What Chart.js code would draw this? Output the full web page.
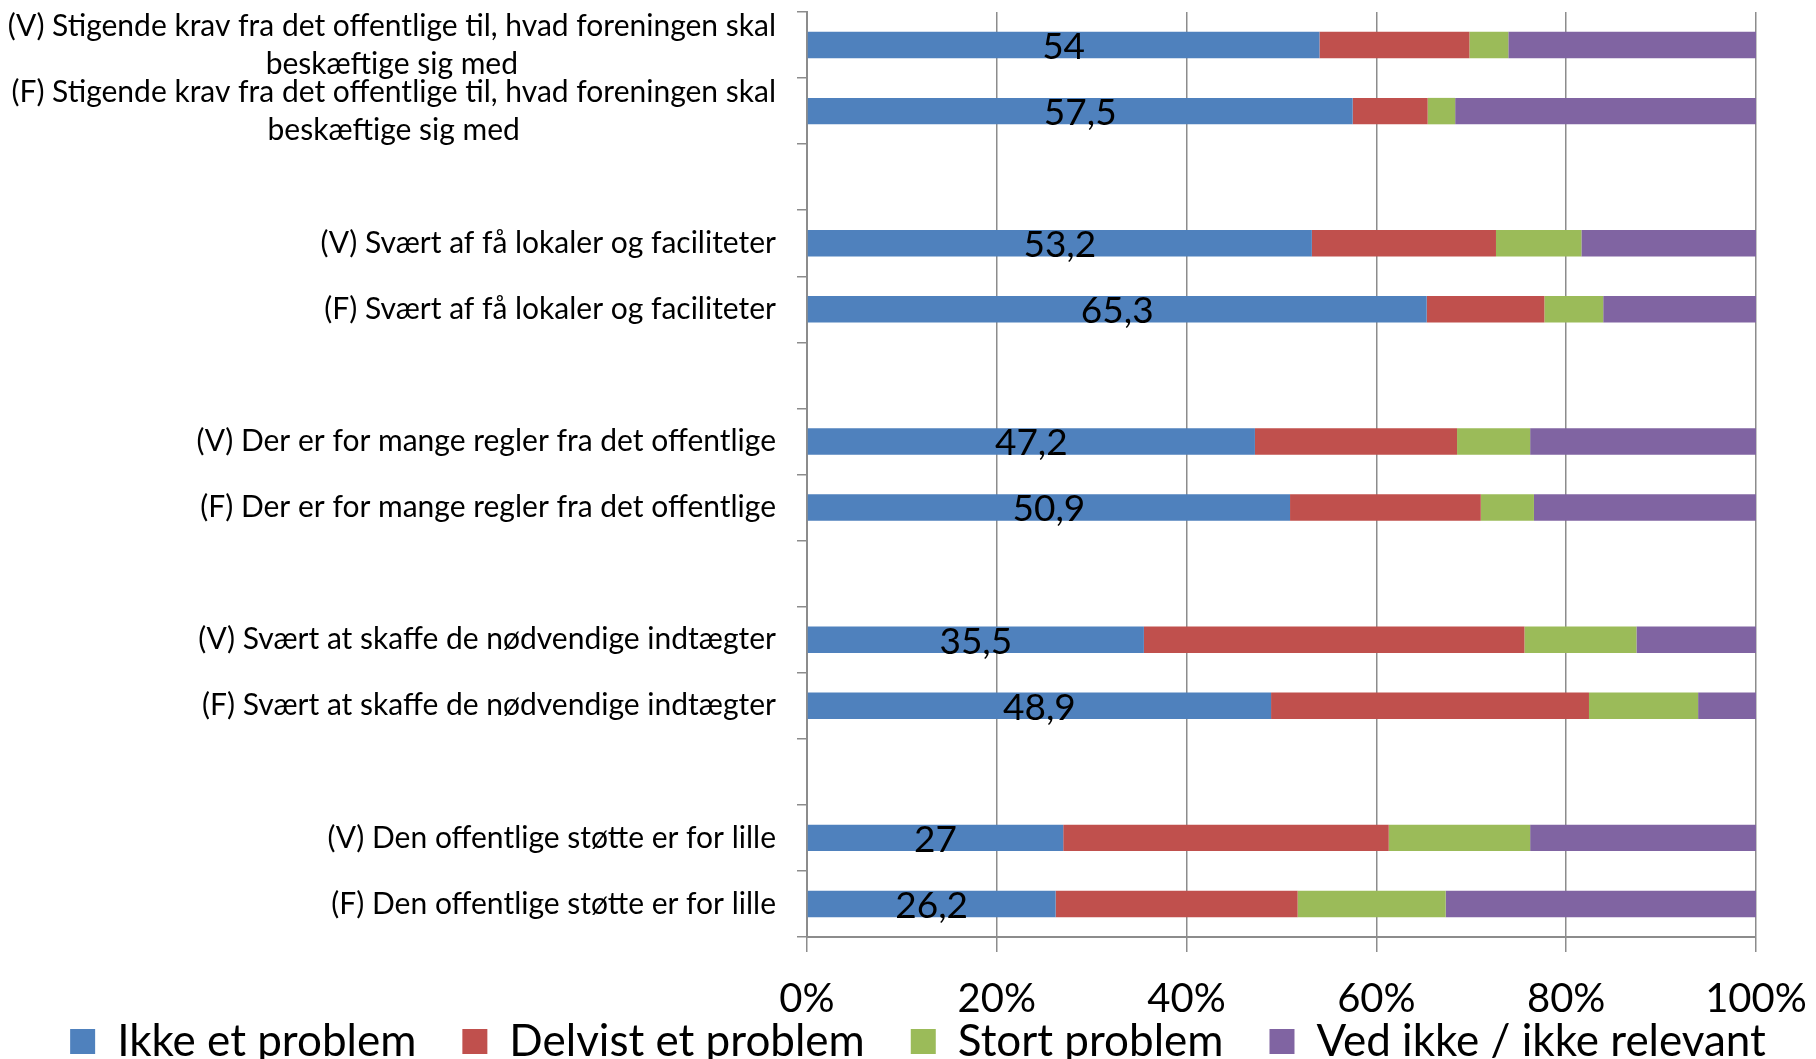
<!DOCTYPE html>
<html>
<head>
<meta charset="utf-8">
<script src="https://cdn.jsdelivr.net/npm/chart.js@4.4.1/dist/chart.umd.min.js"></script>
<style>
  html, body { margin: 0; padding: 0; background: #ffffff; }
  #wrap { width: 1816px; height: 1059px; }
</style>
</head>
<body>
<div id="wrap"><canvas id="c" width="1816" height="1059"></canvas></div>
<script>
const categories = [
  ['(V) Stigende krav fra det offentlige til, hvad foreningen skal', 'beskæftige sig med'],
  ['(F) Stigende krav fra det offentlige til, hvad foreningen skal', 'beskæftige sig med'],
  '',
  '(V) Svært af få lokaler og faciliteter',
  '(F) Svært af få lokaler og faciliteter',
  '',
  '(V) Der er for mange regler fra det offentlige',
  '(F) Der er for mange regler fra det offentlige',
  '',
  '(V) Svært at skaffe de nødvendige indtægter',
  '(F) Svært at skaffe de nødvendige indtægter',
  '',
  '(V) Den offentlige støtte er for lille',
  '(F) Den offentlige støtte er for lille'
];
const seriesNames = ['Ikke et problem', 'Delvist et problem', 'Stort problem', 'Ved ikke / ikke relevant'];
const ikkeEtProblem   = [54,   57.5, null, 53.2, 65.3, null, 47.2, 50.9, null, 35.5, 48.9, null, 27,   26.2];
const delvistProblem  = [15.8, 7.9,  null, 19.4, 12.4, null, 21.3, 20.1, null, 40.1, 33.5, null, 34.3, 25.5];
const stortProblem    = [4.1,  2.9,  null, 9.0,  6.2,  null, 7.7,  5.6,  null, 11.8, 11.5, null, 14.9, 15.6];
const vedIkke         = [26.1, 31.7, null, 18.4, 16.1, null, 23.8, 23.4, null, 12.6, 6.1,  null, 23.8, 32.7];
const xTickLabels = ['0%', '20%', '40%', '60%', '80%', '100%'];

const colors = ['#4F81BD', '#C0504D', '#9BBB59', '#8064A2'];
const FONT = 'Lato';
const gridColor = '#8c8c8c';

const valueLabelPlugin = {
  id: 'valueLabels',
  afterDatasetsDraw(chart) {
    const ctx = chart.ctx;
    const meta = chart.getDatasetMeta(0);
    const values = chart.data.datasets[0].data;
    ctx.save();
    ctx.font = '37px ' + FONT;
    ctx.fillStyle = '#000000';
    ctx.textAlign = 'center';
    ctx.textBaseline = 'middle';
    meta.data.forEach((el, i) => {
      const v = values[i];
      if (v === null || v === undefined) return;
      const p = el.getProps(['x', 'y', 'base'], true);
      ctx.fillText(String(v).replace('.', ','), (p.x + p.base) / 2, p.y + 2);
    });
    ctx.restore();
  }
};

const categoryLabelPlugin = {
  id: 'categoryLabels',
  afterDraw(chart) {
    const ctx = chart.ctx;
    const scale = chart.scales.y;
    const right = scale.right - 31;
    const lineH = 38;
    ctx.save();
    ctx.font = '30px ' + FONT;
    ctx.fillStyle = '#000000';
    ctx.textAlign = 'center';
    ctx.textBaseline = 'middle';
    chart.data.labels.forEach((lab, i) => {
      const lines = Array.isArray(lab) ? lab : [lab];
      if (!lines.join('')) return;
      const widest = Math.max(...lines.map(l => ctx.measureText(l).width));
      const cx = right - widest / 2;
      const y = scale.getPixelForValue(i);
      lines.forEach((l, j) => {
        ctx.fillText(l, cx, y + (j - (lines.length - 1) / 2) * lineH);
      });
    });
    ctx.restore();
  }
};

const datasets = [ikkeEtProblem, delvistProblem, stortProblem, vedIkke].map((d, k) => ({
  label: seriesNames[k],
  data: d,
  backgroundColor: colors[k],
  borderWidth: 0,
  barPercentage: 0.4,
  categoryPercentage: 1.0
}));

new Chart(document.getElementById('c'), {
  type: 'bar',
  data: { labels: categories, datasets },
  options: {
    indexAxis: 'y',
    responsive: false,
    animation: false,
    devicePixelRatio: 1,
    layout: { padding: { top: 12, right: 0, left: 20, bottom: -14.5 } },
    plugins: {
      legend: {
        position: 'bottom',
        labels: {
          font: { family: FONT, size: 44 },
          color: '#000000',
          boxWidth: 25,
          boxHeight: 25,
          padding: 46
        }
      },
      tooltip: { enabled: false }
    },
    scales: {
      x: {
        type: 'linear',
        stacked: true,
        min: 0,
        max: 100,
        afterFit(scale) { scale.height = 36.5; scale.paddingRight = 60; },
        ticks: {
          stepSize: 20,
          font: { family: FONT, size: 40 },
          color: '#000000',
          mirror: true,
          padding: -86,
          maxRotation: 0,
          callback: (v, i) => xTickLabels[i]
        },
        grid: { color: gridColor, lineWidth: 1.5, tickLength: 15 },
        border: { color: gridColor, width: 2 }
      },
      y: {
        type: 'category',
        stacked: true,
        offset: true,
        afterFit(scale) { scale.width = 787; },
        ticks: { display: false },
        grid: { offset: true, drawOnChartArea: false, tickLength: 10, color: gridColor, lineWidth: 1.5 },
        border: { color: gridColor, width: 2 }
      }
    }
  },
  plugins: [valueLabelPlugin, categoryLabelPlugin]
});
</script>
</body>
</html>
